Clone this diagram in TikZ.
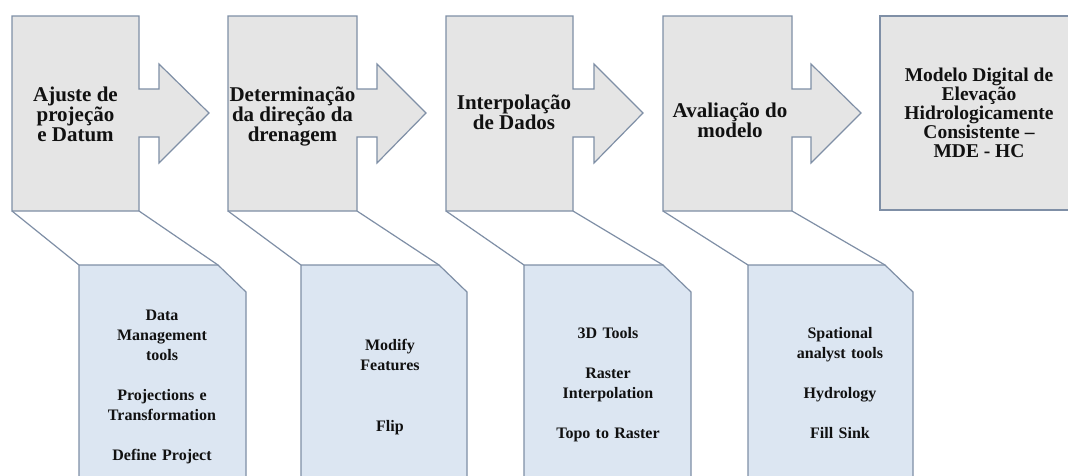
\documentclass[tikz,border=0pt]{standalone}
\usepackage{fontspec}
\setmainfont{Liberation Serif}
\definecolor{edge}{HTML}{7F8FA6}
\definecolor{boxfill}{HTML}{E5E5E5}
\definecolor{callfill}{HTML}{DCE6F2}
\definecolor{ink}{HTML}{111111}
\begin{document}
\begin{tikzpicture}[x=1pt,y=-1pt,
  outline/.style={draw=edge,line width=1.2pt,line join=miter},
  stepshape/.style={outline,fill=boxfill},
  calloutshape/.style={outline,fill=callfill},
  link/.style={draw=edge,line width=1.2pt},
  maintext/.style={font=\bfseries\fontsize{21}{20}\selectfont,align=center,text=ink,inner sep=0pt},
  endtext/.style={font=\bfseries\fontsize{19.5}{19}\selectfont,align=center,text=ink,inner sep=0pt},
  calltext/.style={font=\bfseries\fontsize{16}{20}\selectfont,align=center,text=ink,inner sep=0pt,text width=170pt,anchor=base}]
\useasboundingbox (0,0) rectangle (1068,475);
\clip (0,0) rectangle (1068,475);
\fill[white] (0,0) rectangle (1068,475);
% step boxes with arrows
\foreach \L/\R/\Rb/\T/\n in {12/139/159/209/1, 228/357/377/426/2, 446/573/594/643/3, 663/792/811/861/4} {
  \draw[stepshape] (\L,16) -- (\R,16) -- (\R,89) -- (\Rb,89) -- (\Rb,64) -- (\T,113) -- (\Rb,163) -- (\Rb,137) -- (\R,137) -- (\R,211) -- (\L,211) -- cycle;
  \coordinate (b\n bl) at (\L,211);
  \coordinate (b\n br) at (\R,211);
}
% final box
\draw[stepshape] (880,16) rectangle (1078,210);
% callouts
\foreach \L/\R/\n in {79/246/1, 301/467/2, 524/691/3, 748/913/4} {
  \draw[calloutshape] (\L,495) -- (\L,265) -- ({\R-28},265) -- (\R,292) -- (\R,495) -- cycle;
  \coordinate (c\n tl) at (\L,265);
  \coordinate (c\n tr) at ({\R-28},265);
}
% links
\foreach \n in {1,...,4} {
  \draw[link] (b\n bl) -- (c\n tl);
  \draw[link] (b\n br) -- (c\n tr);
}
% texts
\node[maintext] (t1) at (75.5,114) {Ajuste de\\projeção\\e Datum};
\node[maintext] (t2) at (292.5,116) {Determinação\\da direção da\\drenagem};
\node[maintext] (t3) at (514,112) {Interpolação\\de Dados};
\node[maintext] (t4) at (730,120) {Avaliação do\\modelo};
\node[endtext] (t5) at (979,113) {Modelo Digital de\\Elevação\\Hidrologicamente\\Consistente –\\MDE - HC};
\node[calltext] (k1) at (162,320) {Data\\Management\\tools\\[20pt]Projections e\\Transformation\\[20pt]Define Project};
\node[calltext] (k2) at (390,350) {Modify\\Features\\[41pt]Flip};
\node[calltext] (k3) at (608,338) {3D Tools\\[20pt]Raster\\Interpolation\\[20pt]Topo to Raster};
\node[calltext] (k4) at (840,338) {Spational\\analyst tools\\[20pt]Hydrology\\[20pt]Fill Sink};
\end{tikzpicture}
\end{document}
